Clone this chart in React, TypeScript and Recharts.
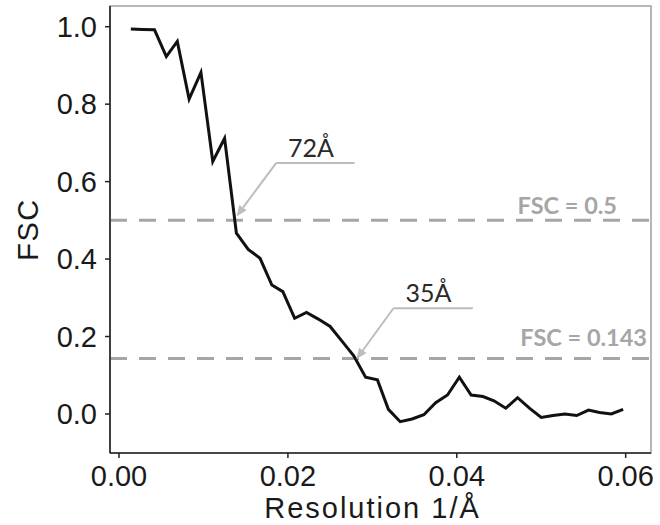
import React from 'react';
import { LineChart, Line, XAxis, YAxis, ReferenceLine, ReferenceArea } from 'recharts';

// Resolution (1/Å) sampling of the FSC curve
const resolution = [
  0.0014, 0.0028, 0.0042, 0.0056, 0.0069, 0.0083, 0.0097, 0.0111, 0.0125, 0.0139,
  0.0153, 0.0167, 0.0181, 0.0194, 0.0208, 0.0222, 0.0236, 0.025, 0.0264, 0.0278,
  0.0292, 0.0306, 0.0319, 0.0333, 0.0347, 0.0361, 0.0375, 0.0389, 0.0403, 0.0417,
  0.0431, 0.0444, 0.0458, 0.0472, 0.0486, 0.05, 0.0514, 0.0528, 0.0542, 0.0556,
  0.0569, 0.0583, 0.0597,
];
// FSC values
const fsc = [
  0.994, 0.993, 0.992, 0.923, 0.962, 0.813, 0.882, 0.652, 0.712, 0.467,
  0.425, 0.402, 0.333, 0.316, 0.247, 0.262, 0.245, 0.226, 0.188, 0.15,
  0.095, 0.088, 0.012, -0.02, -0.013, -0.002, 0.029, 0.049, 0.095, 0.049,
  0.045, 0.034, 0.015, 0.042, 0.015, -0.009, -0.004, 0.0, -0.004, 0.01,
  0.004, 0.0, 0.012,
];

const xTicks = [0, 0.02, 0.04, 0.06];
const yTicks = [0, 0.2, 0.4, 0.6, 0.8, 1.0];
const xDomain = [-0.00107, 0.063];
const yDomain = [-0.1008, 1.0535];

const thresholds = [0.5, 0.143];
const thresholdLabels = ['FSC = 0.5', 'FSC = 0.143'];

const annotationLabels = ['72Å', '35Å'];
const annotationTipX = [0.0139, 0.0281];
const annotationTipY = [0.51, 0.141];
const annotationElbowX = [0.0186, 0.0325];
const annotationElbowY = [0.648, 0.273];
const annotationEndX = [0.0279, 0.0419];

// styling
const labelRightInset = [34, 4];
const labelLift = [6.5, 13];
const AXIS_FONT = '"Liberation Sans", Arial, Helvetica, sans-serif';
const ANNOT_FONT = 'Lato, "Open Sans", sans-serif';
const TEXT_DARK = '#1a1a1a';
const GREY = '#a6a6a6';
const ANNOT_GREY = '#bdbdbd';

const data = resolution.map((r, i) => ({ res: r, fsc: fsc[i] }));

const ArrowShape = (props: any) => {
  const { x1, y1, x2, y2 } = props;
  const dx = x1 - x2;
  const dy = y1 - y2;
  const len = Math.sqrt(dx * dx + dy * dy) || 1;
  const ux = dx / len;
  const uy = dy / len;
  const L = 11;
  const W = 4.5;
  const bx = x1 - ux * L;
  const by = y1 - uy * L;
  const p1 = `${x1},${y1}`;
  const p2 = `${bx - uy * W},${by + ux * W}`;
  const p3 = `${bx + uy * W},${by - ux * W}`;
  return (
    <g>
      <line x1={bx} y1={by} x2={x2} y2={y2} stroke={ANNOT_GREY} strokeWidth={2} />
      <polygon points={`${p1} ${p2} ${p3}`} fill={ANNOT_GREY} />
    </g>
  );
};

const makeShelfShape = (text: string) => (props: any) => {
  const { x1, y1, x2, y2 } = props;
  return (
    <g>
      <line x1={x1} y1={y1} x2={x2} y2={y2} stroke={ANNOT_GREY} strokeWidth={2} />
      <text
        x={x1 + 12}
        y={y1 - 6}
        fontFamily={ANNOT_FONT}
        fontSize={25}
        fill="#2a2a2a"
        textAnchor="start"
      >
        {text}
      </text>
    </g>
  );
};

const makeThresholdLabel = (i: number) => (props: any) => {
  const vb = props.viewBox || {};
  return (
    <text
      x={vb.x + vb.width - labelRightInset[i]}
      y={vb.y - labelLift[i]}
      textAnchor="end"
      fontFamily={ANNOT_FONT}
      fontWeight={700}
      fontSize={23.5}
      fill={GREY}
    >
      {thresholdLabels[i]}
    </text>
  );
};

const XTitle = (props: any) => {
  const vb = props.viewBox || {};
  return (
    <text
      x={vb.x + vb.width / 2 - 8}
      y={vb.y + 65}
      textAnchor="middle"
      fontFamily={AXIS_FONT}
      fontSize={29}
      letterSpacing={2}
      fill={TEXT_DARK}
    >
      Resolution 1/Å
    </text>
  );
};

const YTitle = (props: any) => {
  const vb = props.viewBox || {};
  const cx = vb.x + 28;
  const cy = vb.y + vb.height / 2;
  return (
    <text
      x={cx}
      y={cy}
      transform={`rotate(-90, ${cx}, ${cy})`}
      textAnchor="middle"
      dominantBaseline="central"
      fontFamily={AXIS_FONT}
      fontSize={29}
      letterSpacing={1.5}
      fill={TEXT_DARK}
    >
      FSC
    </text>
  );
};

export default function App() {
  return (
    <div style={{ position: 'absolute', left: 0, top: 0, width: 660, height: 525, background: '#fff' }}>
      <LineChart
        width={660}
        height={525}
        data={data}
        margin={{ top: 6, right: 9, bottom: 0, left: 0 }}
      >
        <ReferenceArea
          x1={xDomain[0]}
          x2={xDomain[1]}
          y1={yDomain[0]}
          y2={yDomain[1]}
          fill="none"
          stroke="#9e9e9e"
          strokeWidth={1.5}
          ifOverflow="visible"
        />
        <XAxis
          dataKey="res"
          type="number"
          domain={xDomain}
          ticks={xTicks}
          allowDataOverflow
          tickFormatter={(v: number) => v.toFixed(2)}
          height={72}
          tickSize={5}
          tickMargin={7}
          axisLine={{ stroke: '#222', strokeWidth: 1.6 }}
          tickLine={{ stroke: '#222', strokeWidth: 1.5 }}
          tick={{ fontSize: 29, fill: TEXT_DARK, fontFamily: AXIS_FONT }}
          label={XTitle}
        />
        <YAxis
          type="number"
          domain={yDomain}
          ticks={yTicks}
          allowDataOverflow
          tickFormatter={(v: number) => v.toFixed(1)}
          width={110}
          tickSize={5}
          tickMargin={8}
          axisLine={{ stroke: '#222', strokeWidth: 1.6 }}
          tickLine={{ stroke: '#222', strokeWidth: 1.5 }}
          tick={{ fontSize: 29, fill: TEXT_DARK, fontFamily: AXIS_FONT }}
          label={YTitle}
        />
        {thresholds.map((t, i) => (
          <ReferenceLine
            key={`thr-${i}`}
            y={t}
            stroke={GREY}
            strokeWidth={3}
            strokeDasharray="17 12"
            label={makeThresholdLabel(i)}
          />
        ))}
        <Line
          type="linear"
          dataKey="fsc"
          stroke="#111"
          strokeWidth={3}
          dot={false}
          isAnimationActive={false}
        />
        {annotationLabels.map((lab, i) => (
          <ReferenceLine
            key={`arr-${i}`}
            segment={[
              { x: annotationTipX[i], y: annotationTipY[i] },
              { x: annotationElbowX[i], y: annotationElbowY[i] },
            ]}
            shape={ArrowShape}
          />
        ))}
        {annotationLabels.map((lab, i) => (
          <ReferenceLine
            key={`shelf-${i}`}
            segment={[
              { x: annotationElbowX[i], y: annotationElbowY[i] },
              { x: annotationEndX[i], y: annotationElbowY[i] },
            ]}
            shape={makeShelfShape(lab)}
          />
        ))}
      </LineChart>
    </div>
  );
}
